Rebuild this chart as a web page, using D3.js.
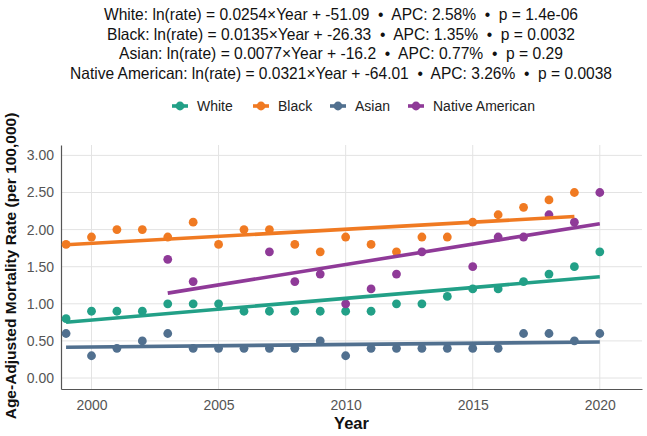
<!DOCTYPE html>
<html>
<head>
<meta charset="utf-8">
<script src="https://cdn.jsdelivr.net/npm/d3@7"></script>
<style>
  body { margin: 0; background: #fff; }
  svg { font-family: "Liberation Sans", Arial, sans-serif; }
</style>
</head>
<body>
<div id="chart"></div>
<script>
// Data
const groups = ['White', 'Black', 'Asian', 'Native American'];
const colors = ['#22a087', '#f07a22', '#51708f', '#8f3a98'];

const whiteYears = d3.range(1999, 2021);
const whiteRates = [0.8, 0.9, 0.9, 0.9, 1.0, 1.0, 1.0, 0.9, 0.9, 0.9, 0.9, 0.9,
                    0.9, 1.0, 1.0, 1.1, 1.2, 1.2, 1.3, 1.4, 1.5, 1.7];

const blackYears = d3.range(1999, 2020);
const blackRates = [1.8, 1.9, 2.0, 2.0, 1.9, 2.1, 1.8, 2.0, 2.0, 1.8, 1.7, 1.9,
                    1.8, 1.7, 1.9, 1.9, 2.1, 2.2, 2.3, 2.4, 2.5];

const asianYears = d3.range(1999, 2021);
const asianRates = [0.6, 0.3, 0.4, 0.5, 0.6, 0.4, 0.4, 0.4, 0.4, 0.4, 0.5, 0.3,
                    0.4, 0.4, 0.4, 0.4, 0.4, 0.4, 0.6, 0.6, 0.5, 0.6];

const nativeYears = [2003, 2004, 2007, 2008, 2009, 2010, 2011, 2012, 2013, 2015,
                     2016, 2017, 2018, 2019, 2020];
const nativeRates = [1.6, 1.3, 1.7, 1.3, 1.4, 1.0, 1.2, 1.4, 1.7, 1.5,
                     1.9, 1.9, 2.2, 2.1, 2.5];

const titleLines = [
    'White: ln(rate) = 0.0254\u00d7Year + -51.09  \u2022  APC: 2.58%  \u2022  p = 1.4e-06',
    'Black: ln(rate) = 0.0135\u00d7Year + -26.33  \u2022  APC: 1.35%  \u2022  p = 0.0032',
    'Asian: ln(rate) = 0.0077\u00d7Year + -16.2  \u2022  APC: 0.77%  \u2022  p = 0.29',
    'Native American: ln(rate) = 0.0321\u00d7Year + -64.01  \u2022  APC: 3.26%  \u2022  p = 0.0038'
];
const titleWidths = [474, 468, 444, 542];

const xTicks = [2000, 2005, 2010, 2015, 2020];
const yTicks = [0, 0.5, 1, 1.5, 2, 2.5, 3];

const series = [
    { name: groups[0], color: colors[0], years: whiteYears, rates: whiteRates },
    { name: groups[1], color: colors[1], years: blackYears, rates: blackRates },
    { name: groups[2], color: colors[2], years: asianYears, rates: asianRates },
    { name: groups[3], color: colors[3], years: nativeYears, rates: nativeRates }
];

// Set the dimensions
const width = 647;
const height = 436;
const panel = { left: 61, right: 642, top: 145, bottom: 389 };

const svg = d3.select('#chart')
    .append('svg')
    .attr('width', width)
    .attr('height', height);

// Scales
const xScale = d3.scaleLinear()
    .domain([1998.8, 2021.66])
    .range([panel.left, panel.right]);

const yScale = d3.scaleLinear()
    .domain([-0.148, 3.14])
    .range([panel.bottom, panel.top]);

// Gridlines
svg.append('g')
    .selectAll('line')
    .data(xTicks)
    .join('line')
    .attr('x1', d => xScale(d))
    .attr('x2', d => xScale(d))
    .attr('y1', panel.top)
    .attr('y2', panel.bottom)
    .attr('stroke', '#e3e3e3')
    .attr('stroke-width', 1);

svg.append('g')
    .selectAll('line')
    .data(yTicks)
    .join('line')
    .attr('x1', panel.left)
    .attr('x2', panel.right)
    .attr('y1', d => yScale(d))
    .attr('y2', d => yScale(d))
    .attr('stroke', '#e3e3e3')
    .attr('stroke-width', 1);

// Axes
const xAxis = d3.axisBottom(xScale).tickValues(xTicks).tickFormat(d3.format('d')).tickSize(0).tickPadding(11);
const gx = svg.append('g')
    .attr('transform', `translate(0, ${panel.bottom})`)
    .call(xAxis);
gx.select('.domain').attr('stroke', '#555').attr('stroke-width', 1.2);
gx.selectAll('text').attr('fill', '#555').style('font-size', '14px');

const yAxis = d3.axisLeft(yScale).tickValues(yTicks).tickFormat(d3.format('.2f')).tickSize(0).tickPadding(7);
const gy = svg.append('g')
    .attr('transform', `translate(${panel.left}, 0)`)
    .call(yAxis);
gy.select('.domain').attr('stroke', '#555').attr('stroke-width', 1.2);
gy.selectAll('text').attr('fill', '#555').style('font-size', '14px');

// Points
series.forEach(s => {
    svg.append('g')
        .selectAll('circle')
        .data(s.years.map((y, i) => ({ year: y, rate: s.rates[i] })))
        .join('circle')
        .attr('cx', d => xScale(d.year))
        .attr('cy', d => yScale(d.rate))
        .attr('r', 4.4)
        .attr('fill', s.color);
});

// Linear fit lines (OLS on each series)
series.forEach(s => {
    const mx = d3.mean(s.years);
    const my = d3.mean(s.rates);
    const sxy = d3.sum(s.years, (y, i) => (y - mx) * (s.rates[i] - my));
    const sxx = d3.sum(s.years, y => (y - mx) * (y - mx));
    const slope = sxy / sxx;
    const x0 = d3.min(s.years);
    const x1 = d3.max(s.years);
    svg.append('line')
        .attr('x1', xScale(x0))
        .attr('x2', xScale(x1))
        .attr('y1', yScale(my + slope * (x0 - mx)))
        .attr('y2', yScale(my + slope * (x1 - mx)))
        .attr('stroke', s.color)
        .attr('stroke-width', 3.6);
});

// Title lines
svg.append('g')
    .selectAll('text')
    .data(titleLines)
    .join('text')
    .attr('x', 341)
    .attr('y', (d, i) => 20 + i * 19.5)
    .attr('text-anchor', 'middle')
    .attr('textLength', (d, i) => titleWidths[i])
    .attr('lengthAdjust', 'spacingAndGlyphs')
    .attr('fill', '#111')
    .style('white-space', 'pre')
    .style('font-size', '16.5px')
    .text(d => d);

// Legend
const legendX = [180, 261, 338, 416];
const legend = svg.append('g');
series.forEach((s, i) => {
    const g = legend.append('g').attr('transform', `translate(${legendX[i]}, 106)`);
    g.append('line')
        .attr('x1', -8).attr('x2', 8)
        .attr('stroke', s.color).attr('stroke-width', 3.6);
    g.append('circle').attr('r', 4.4).attr('fill', s.color);
    g.append('text')
        .attr('x', 17)
        .attr('dy', '0.35em')
        .attr('fill', '#222')
        .style('font-size', '14px')
        .text(s.name);
});

// Axis titles
svg.append('text')
    .attr('x', (panel.left + panel.right) / 2)
    .attr('y', 429)
    .attr('text-anchor', 'middle')
    .style('font-size', '16.5px')
    .style('font-weight', 'bold')
    .attr('fill', '#111')
    .text('Year');

svg.append('text')
    .attr('transform', 'rotate(-90)')
    .attr('x', -266)
    .attr('y', 16)
    .attr('text-anchor', 'middle')
    .style('font-size', '15.5px')
    .style('font-weight', 'bold')
    .attr('fill', '#111')
    .text('Age-Adjusted Mortality Rate (per 100,000)');
</script>
</body>
</html>
